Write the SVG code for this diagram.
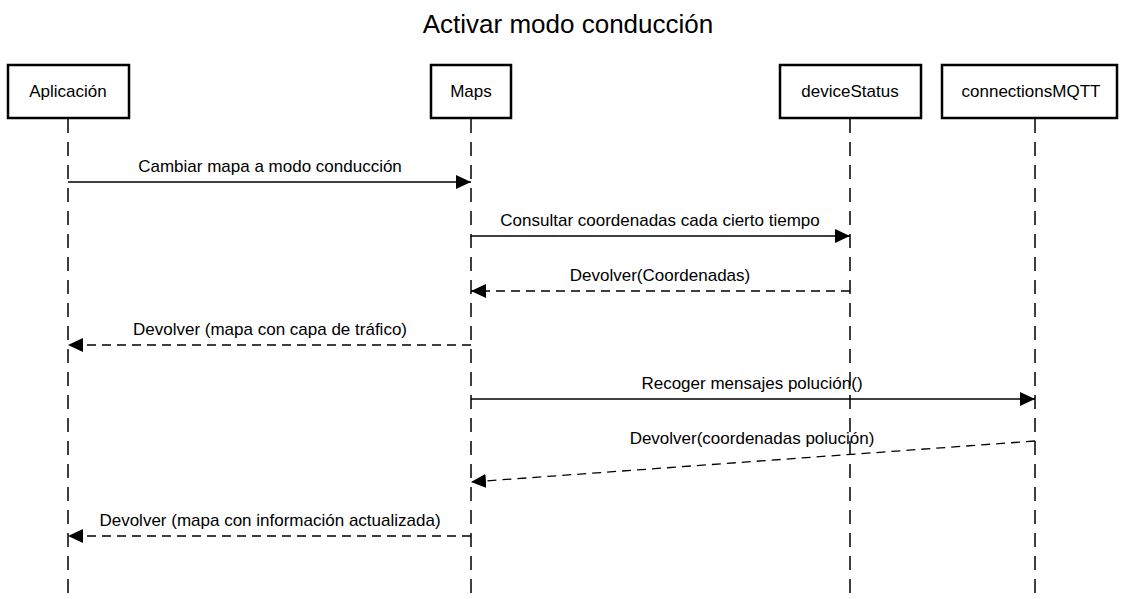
<svg xmlns="http://www.w3.org/2000/svg" width="1123" height="599" viewBox="0 0 1123 599">
<defs>
<marker id="ah" markerWidth="16" markerHeight="14" refX="15" refY="7" orient="auto" markerUnits="userSpaceOnUse">
<path d="M0,0 L15,7 L0,14 Z" fill="#000"/>
</marker>
<style>
text{font-family:"Liberation Sans",Arial,sans-serif;fill:#000}
.title{font-size:26px}
.lbl{font-size:17px;text-anchor:middle}
.box{fill:#fff;stroke:#000;stroke-width:2.5}
.life{stroke:#000;stroke-width:1.5;stroke-dasharray:14,9;fill:none}
.msg{stroke:#000;stroke-width:1.3;fill:none;marker-end:url(#ah)}
.ret{stroke-dasharray:9,6}
</style>
</defs>
<rect width="1123" height="599" fill="#fff"/>
<text class="title" x="568" y="33" text-anchor="middle">Activar modo conducción</text>
<g id="lifelines">
<line class="life" x1="68" y1="119" x2="68" y2="599"/>
<line class="life" x1="471" y1="119" x2="471" y2="599"/>
<line class="life" x1="850" y1="119" x2="850" y2="599"/>
<line class="life" x1="1035" y1="119" x2="1035" y2="599"/>
</g>
<g id="aplicacion"><rect class="box" x="8" y="65" width="121" height="53"/><text class="lbl" x="68" y="97">Aplicación</text></g>
<g id="maps"><rect class="box" x="431" y="65" width="80" height="53"/><text class="lbl" x="471" y="97">Maps</text></g>
<g id="deviceStatus"><rect class="box" x="780" y="65" width="141" height="53"/><text class="lbl" x="850" y="97">deviceStatus</text></g>
<g id="connectionsMQTT"><rect class="box" x="942" y="65" width="175" height="53"/><text class="lbl" x="1031" y="97">connectionsMQTT</text></g>
<g id="connectors">
<line class="msg" x1="68" y1="182" x2="471" y2="182"/>
<text class="lbl" x="270" y="172">Cambiar mapa a modo conducción</text>
<line class="msg" x1="471" y1="236" x2="850" y2="236"/>
<text class="lbl" x="660" y="226">Consultar coordenadas cada cierto tiempo</text>
<line class="msg ret" x1="850" y1="291" x2="471" y2="291"/>
<text class="lbl" x="660" y="281">Devolver(Coordenadas)</text>
<line class="msg ret" x1="471" y1="345" x2="68" y2="345"/>
<text class="lbl" x="270" y="335">Devolver (mapa con capa de tráfico)</text>
<line class="msg" x1="471" y1="399" x2="1035" y2="399"/>
<text class="lbl" x="752" y="389">Recoger mensajes polución()</text>
<line class="msg ret" x1="1035" y1="441" x2="471" y2="482"/>
<text class="lbl" x="752" y="444">Devolver(coordenadas polución)</text>
<line class="msg ret" x1="471" y1="536" x2="68" y2="536"/>
<text class="lbl" x="270" y="526">Devolver (mapa con información actualizada)</text>
</g>
</svg>
